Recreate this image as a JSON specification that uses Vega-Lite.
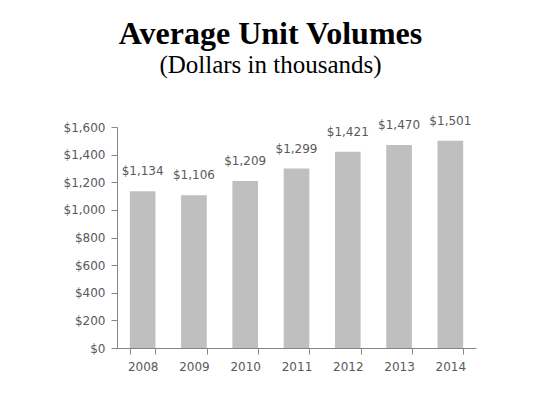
{
  "$schema": "https://vega.github.io/schema/vega-lite/v6.json",
  "autosize": "none",
  "width": 359,
  "height": 221,
  "padding": {"left": 117, "top": 127, "right": 79, "bottom": 49},
  "background": "white",
  "title": {
    "text": "Average Unit Volumes",
    "subtitle": "(Dollars in thousands)",
    "font": "Liberation Serif",
    "fontSize": 32,
    "fontWeight": "bold",
    "color": "black",
    "subtitleFont": "Liberation Serif",
    "subtitleFontSize": 25,
    "subtitleColor": "black",
    "subtitlePadding": 2,
    "anchor": "middle",
    "dx": -26,
    "offset": 36
  },
  "data": {
    "values": [
      {"year": "2008", "value": 1134},
      {"year": "2009", "value": 1106},
      {"year": "2010", "value": 1209},
      {"year": "2011", "value": 1299},
      {"year": "2012", "value": 1421},
      {"year": "2013", "value": 1470},
      {"year": "2014", "value": 1501}
    ]
  },
  "config": {
    "view": {"stroke": null},
    "axis": {
      "domainColor": "#868686",
      "tickColor": "#868686",
      "labelColor": "#595959",
      "labelFont": "DejaVu Sans",
      "labelFontSize": 12,
      "grid": false,
      "title": null,
      "tickSize": 6
    }
  },
  "encoding": {
    "x": {
      "field": "year",
      "type": "ordinal",
      "scale": {"paddingInner": 0.5, "paddingOuter": 0.25},
      "axis": {"labelAngle": 0, "tickBand": "extent", "labelPadding": 7}
    },
    "y": {
      "field": "value",
      "type": "quantitative",
      "scale": {"domain": [0, 1600]},
      "axis": {"values": [0, 200, 400, 600, 800, 1000, 1200, 1400, 1600], "format": "$,.0f", "labelPadding": 6}
    }
  },
  "layer": [
    {"mark": {"type": "bar", "color": "#BFBFBF"}},
    {
      "mark": {"type": "text", "baseline": "bottom", "dy": -13, "color": "#595959", "font": "DejaVu Sans", "fontSize": 12},
      "encoding": {"text": {"field": "value", "type": "quantitative", "format": "$,.0f"}}
    }
  ]
}
